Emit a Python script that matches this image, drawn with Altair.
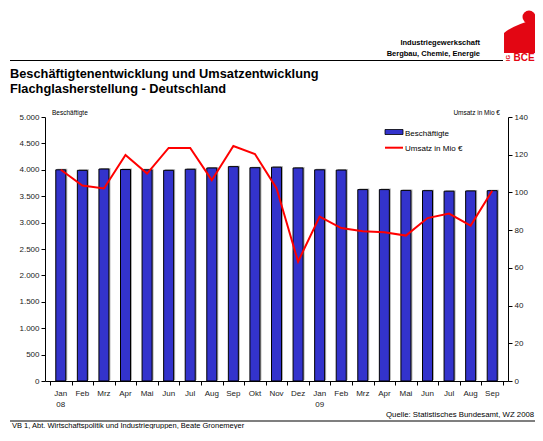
import altair as alt
import pandas as pd

# ---- data ----
month_labels = ["Jan", "Feb", "Mrz", "Apr", "Mai", "Jun", "Jul", "Aug", "Sep", "Okt",
                "Nov", "Dez", "Jan", "Feb", "Mrz", "Apr", "Mai", "Jun", "Jul", "Aug", "Sep"]
year_labels = ["08", "", "", "", "", "", "", "", "", "", "", "", "09",
               "", "", "", "", "", "", "", ""]
employees = [4000, 3990, 4015, 4005, 4000, 3990, 4010, 4035, 4060, 4040, 4050,
             4035, 4000, 3995, 3625, 3625, 3610, 3605, 3595, 3600, 3605]
revenue = [112.0, 103.7, 102.1, 119.9, 110.0, 123.6, 123.6, 106.5, 124.6, 120.4,
           102.3, 63.3, 87.2, 81.1, 79.4, 78.9, 77.1, 86.4, 88.8, 82.4, 100.9]
left_ticks = [0, 500, 1000, 1500, 2000, 2500, 3000, 3500, 4000, 4500, 5000]
right_ticks = [0, 20, 40, 60, 80, 100, 120, 140]

title1 = "Beschäftigtenentwicklung und Umsatzentwicklung"
title2 = "Flachglasherstellung - Deutschland"
head1 = "Industriegewerkschaft"
head2 = "Bergbau, Chemie, Energie"
left_title = "Beschäftigte"
right_title = "Umsatz in Mio €"
legend_bar = "Beschäftigte"
legend_line = "Umsatz in Mio €"
source = "Quelle: Statistisches Bundesamt, WZ 2008"
footer = "VB 1,  Abt. Wirtschaftspolitik und Industriegruppen, Beate Gronemeyer"

FONT = "Liberation Sans"
BLUE = "#3333CC"
RED = "#FF0000"
LOGO = "#E30613"

n = len(month_labels)
df = pd.DataFrame({"idx": list(range(n)), "mon": month_labels, "yr": year_labels,
                   "emp": employees, "rev": revenue})

boundaries = [i - 0.5 for i in range(n + 1)]
xaxis = alt.Axis(values=boundaries, labels=False, grid=False, title=None,
                 tickSize=4, tickColor="#000", domainColor="#000")
xenc = alt.X("idx:Q", scale=alt.Scale(domain=[-0.5, n - 0.5], nice=False, zero=False),
             axis=xaxis)

shadow = alt.Chart(df).mark_bar(size=10, color="#b0b0b0", xOffset=1.5, yOffset=-1).encode(
    x=xenc,
    y=alt.Y("emp:Q", scale=alt.Scale(domain=[0, 5000]), axis=None),
)

bars = alt.Chart(df).mark_bar(size=10, color=BLUE, stroke="#000", strokeWidth=1).encode(
    x=xenc,
    y=alt.Y("emp:Q", scale=alt.Scale(domain=[0, 5000]), title=None,
            axis=alt.Axis(orient="left", values=left_ticks, grid=False,
                          labelExpr="replace(format(datum.value, ','), ',', '.')",
                          labelFont=FONT, labelFontSize=8, labelColor="#222",
                          tickSize=4, labelPadding=2, tickColor="#000", domainColor="#000")),
)

line = alt.Chart(df).mark_line(color=RED, strokeWidth=2).encode(
    x=xenc,
    y=alt.Y("rev:Q", scale=alt.Scale(domain=[0, 140]), title=None,
            axis=alt.Axis(orient="right", values=right_ticks, grid=False,
                          labelFont=FONT, labelFontSize=8, labelColor="#222",
                          tickSize=4, labelPadding=2, tickColor="#000", domainColor="#000")),
)

mon_text = alt.Chart(df).mark_text(font=FONT, fontSize=8, color="#222",
                                   baseline="alphabetic").encode(
    x=xenc, y=alt.value(279), text="mon:N")
year_text = alt.Chart(df).mark_text(font=FONT, fontSize=8, color="#222",
                                    baseline="alphabetic").encode(
    x=xenc, y=alt.value(289.5), text="yr:N")


def txt(s, x, y, size=8.0, bold=False, align="left", color="#000", angle=0):
    kw = dict(align=align, baseline="alphabetic", font=FONT, fontSize=size,
              fontWeight="bold" if bold else "normal", color=color)
    if angle:
        kw["angle"] = angle
    return alt.Chart(pd.DataFrame({"t": [s]})).mark_text(**kw).encode(
        x=alt.value(x), y=alt.value(y), text="t:N")


one = pd.DataFrame({"k": [0]})

top_rule = alt.Chart(one).mark_rule(color="#000", strokeWidth=1.2).encode(
    x=alt.value(-35), x2=alt.value(458), y=alt.value(-56.5))
foot_rule = alt.Chart(one).mark_rule(color="#000", strokeWidth=1.2).encode(
    x=alt.value(-35), x2=alt.value(500), y=alt.value(304))

logo_body = alt.Chart(one).mark_point(
    shape="M -0.94 -0.18 Q -0.3 -0.7 1 -1 L 1 1 L -0.94 1 Z",
    filled=True, color=LOGO, opacity=1, size=1156).encode(
    x=alt.value(475), y=alt.value(-81))
logo_head = alt.Chart(one).mark_point(shape="circle", filled=True, color=LOGO,
                                      opacity=1, size=169).encode(
    x=alt.value(484), y=alt.value(-100))

leg_rect = alt.Chart(one).mark_rect(color=BLUE, stroke="#000", strokeWidth=0.8).encode(
    x=alt.value(340), x2=alt.value(358), y=alt.value(12.5), y2=alt.value(17.5))
leg_line = alt.Chart(one).mark_rule(color=RED, strokeWidth=2).encode(
    x=alt.value(340), x2=alt.value(358), y=alt.value(30.7))

texts = [
    txt(title1, -35, -39.5, size=12.8, bold=True),
    txt(title2, -35, -24, size=12.8, bold=True),
    txt(head1, 435, -72, size=7.5, bold=True, align="right"),
    txt(head2, 435, -61.5, size=7.5, bold=True, align="right"),
    txt("BCE", 468.5, -56, size=10, bold=True, color=LOGO),
    txt("IG", 465, -59, size=6, bold=True, color=LOGO, angle=270, align="center"),
    txt(left_title, 7, -2, size=6.5),
    txt(right_title, 455, -2, size=6.5, align="right"),
    txt(legend_bar, 360, 18.5, size=8),
    txt(legend_line, 360, 34, size=8),
    txt(source, 341, 300, size=7.8),
    txt(footer, -33, 310.5, size=7.5),
]

# page: 8px margin; svg 527 x 421 so that nothing overflows the 543x441 window
chart = alt.layer(
    top_rule, foot_rule, logo_body, logo_head,
    shadow, bars, line, mon_text, year_text, leg_rect, leg_line, *texts
).resolve_scale(y="independent").properties(
    width=463, height=264, background="white",
    padding={"left": 37, "top": 109, "right": 27, "bottom": 48},
    autosize=alt.AutoSizeParams(type="none"),
).configure_view(strokeWidth=0)

chart.save("out.html", embed_options={"renderer": "svg", "actions": False})
